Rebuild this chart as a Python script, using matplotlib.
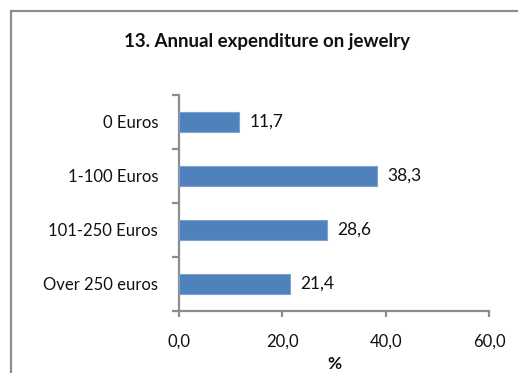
import matplotlib
matplotlib.use("Agg")
import matplotlib.pyplot as plt
from matplotlib.patches import Rectangle

categories = ["0 Euros", "1-100 Euros", "101-250 Euros", "Over 250 euros"]
values = [11.7, 38.3, 28.6, 21.4]
x_ticks = [0, 20, 40, 60]
x_tick_labels = ["0,0", "20,0", "40,0", "60,0"]
value_labels = ["11,7", "38,3", "28,6", "21,4"]

plt.rcParams["font.family"] = ["Lato", "DejaVu Sans"]

W, H = 518, 373
fig = plt.figure(figsize=(W / 100, H / 100), dpi=100)
fig.patch.set_facecolor("white")

# chart frame (left and top edges visible)
frame = Rectangle((11 / W, -0.1), 1.2, 1 - 11 / H + 0.1, transform=fig.transFigure,
                  fill=False, edgecolor="#8c8c8c", lw=1.6, zorder=0)
fig.patches.append(frame)

ax = fig.add_axes([179 / W, 1 - 311 / H, (489 - 179) / W, (311 - 95) / H])

pos = list(range(len(categories)))
ax.barh(pos, values, height=0.38, color="#4F81BD", edgecolor="#7EA1CF", lw=0.8, zorder=3)
ax.set_ylim(len(categories) - 0.5, -0.5)
ax.set_xlim(0, 60)

for p, v, lab in zip(pos, values, value_labels):
    ax.annotate(lab, (v, p), xytext=(7.5, 0), textcoords="offset points",
                va="center", ha="left", fontsize=12.5, color="#111111")

ax.set_xticks(x_ticks)
ax.set_xticklabels(x_tick_labels)
ax.set_yticks(pos)
ax.set_yticklabels(categories)
ax.set_yticks([-0.5, 0.5, 1.5, 2.5, 3.5], minor=True)
ax.tick_params(axis="y", which="major", length=0, pad=15, labelsize=12, labelcolor="#111111")
ax.tick_params(axis="y", which="minor", length=5, width=1.6, color="#8c8c8c")
ax.tick_params(axis="x", length=4, width=1.6, color="#8c8c8c", pad=12,
               labelsize=12, labelcolor="#111111")

for s in ("top", "right"):
    ax.spines[s].set_visible(False)
for s in ("left", "bottom"):
    ax.spines[s].set_color("#8c8c8c")
    ax.spines[s].set_linewidth(1.6)

fig.text(334 / W, 1 - 364 / H, "%", ha="center", va="center",
         fontsize=12.5, fontweight="bold", color="#111111")

fig.text(267 / W, 1 - 42 / H, "13. Annual expenditure on jewelry", ha="center", va="center",
         fontsize=13.5, fontweight="bold", color="#111111")

fig.savefig("out.png", dpi=100, facecolor="white")
